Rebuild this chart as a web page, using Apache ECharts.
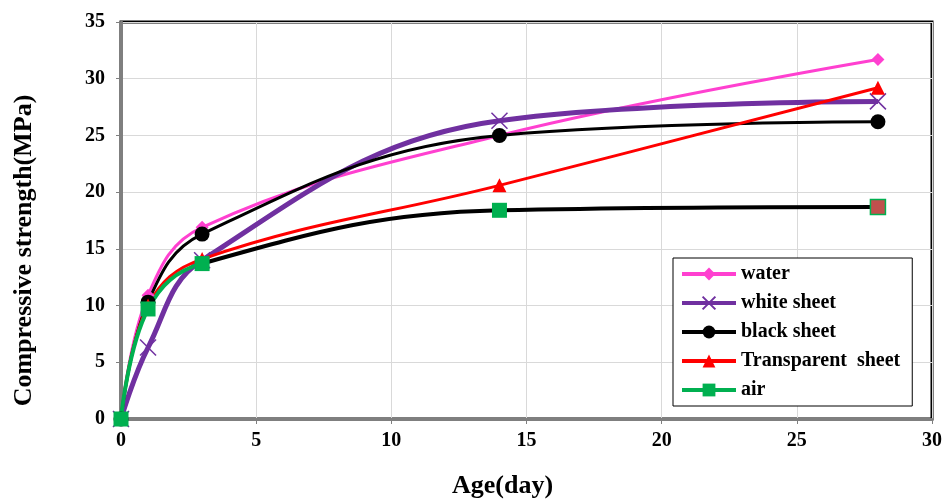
<!DOCTYPE html>
<html><head><meta charset="utf-8">
<script src="https://cdn.jsdelivr.net/npm/echarts@6/dist/echarts.min.js"></script>
<style>html,body{margin:0;padding:0;background:#fff}#c{width:944px;height:501px}</style>
</head><body><div id="c"></div>
<script>
const days = [0, 1, 3, 14, 28];
const water = [0, 10.9, 16.9, 25.0, 31.7];
const whiteSheet = [0, 6.3, 14.0, 26.3, 28.0];
const blackSheet = [0, 10.3, 16.3, 25.0, 26.2];
const transparentSheet = [0, 10.0, 14.1, 20.6, 29.2];
const air = [0, 9.7, 13.7, 18.4, 18.7];
const seriesNames = ['water', 'white sheet', 'black sheet', 'Transparent  sheet', 'air'];
const xTicks = [0, 5, 10, 15, 20, 25, 30];
const yTicks = [0, 5, 10, 15, 20, 25, 30, 35];

const FONT = '"Liberation Serif", "Times New Roman", serif';
const GREEN = '#00B050';
const pts = arr => days.map((d, i) => [d, arr[i]]);
const crossPath = 'path://M0,0L10,10M10,0L0,10';
const greenEnd = days[2] / days[days.length - 1];

const airData = pts(air).map((p, i) => i === days.length - 1
  ? { value: p, itemStyle: { color: '#C0504D', borderColor: GREEN, borderWidth: 1.5 } }
  : p);

const chart = echarts.init(document.getElementById('c'));
chart.setOption({
  animation: false,
  backgroundColor: '#fff',
  grid: { left: 121, right: 12, top: 22, bottom: 82, show: true, borderColor: '#000', borderWidth: 3,
          backgroundColor: 'transparent', containLabel: false, outerBoundsMode: 'none' },
  legend: {
    orient: 'vertical', left: 673, top: 258, padding: [6, 12, 6, 7],
    backgroundColor: '#fff', borderColor: '#000', borderWidth: 1,
    itemWidth: 54, itemHeight: 16, itemGap: 9,
    lineStyle: { width: 4 },
    textStyle: { fontFamily: FONT, fontWeight: 'bold', fontSize: 20, color: '#000' },
    data: [
      { name: seriesNames[0] }, { name: seriesNames[1] }, { name: seriesNames[2] }, { name: seriesNames[3] },
      { name: seriesNames[4], itemStyle: { color: GREEN, borderColor: GREEN }, lineStyle: { color: GREEN, width: 4 } }
    ]
  },
  xAxis: {
    type: 'value', min: 0, max: 30, interval: 5,
    name: 'Age(day)', nameLocation: 'middle', nameGap: 54,
    nameTextStyle: { fontFamily: FONT, fontWeight: 'bold', fontSize: 26, color: '#000', padding: [0, 48, 0, 0] },
    axisLine: { lineStyle: { color: '#7f7f7f', width: 3 } },
    axisTick: { show: true, inside: false, length: 5, lineStyle: { color: '#7f7f7f', width: 1 } },
    axisLabel: { fontFamily: FONT, fontWeight: 'bold', fontSize: 20, color: '#000', margin: 12, formatter: v => xTicks.includes(v) ? String(v) : '' },
    splitLine: { show: true, lineStyle: { color: '#d9d9d9', width: 1 } }
  },
  yAxis: {
    type: 'value', min: 0, max: 35, interval: 5,
    name: 'Compressive strength(MPa)', nameLocation: 'middle', nameGap: 84, nameRotate: 90,
    nameTextStyle: { fontFamily: FONT, fontWeight: 'bold', fontSize: 26, color: '#000', padding: [0, 60, 0, 0] },
    axisLine: { show: true, lineStyle: { color: '#7f7f7f', width: 3 } },
    axisTick: { show: true, inside: false, length: 5, lineStyle: { color: '#7f7f7f', width: 1 } },
    axisLabel: { fontFamily: FONT, fontWeight: 'bold', fontSize: 20, color: '#000', margin: 16, formatter: v => yTicks.includes(v) ? String(v) : '' },
    splitLine: { show: true, lineStyle: { color: '#d9d9d9', width: 1 } }
  },
  series: [
    { name: seriesNames[0], type: 'line', smooth: 0.4, data: pts(water), symbol: 'diamond', symbolSize: 13,
      itemStyle: { color: '#FF40D0' }, lineStyle: { color: '#FF40D0', width: 3 } },
    { name: seriesNames[1], type: 'line', smooth: 0.4, data: pts(whiteSheet), symbol: crossPath, symbolSize: 16,
      itemStyle: { color: '#7030A0', borderColor: '#7030A0', borderWidth: 1.5 }, lineStyle: { color: '#7030A0', width: 5 } },
    { name: seriesNames[2], type: 'line', smooth: 0.4, data: pts(blackSheet), symbol: 'circle', symbolSize: 15,
      itemStyle: { color: '#000' }, lineStyle: { color: '#000', width: 3 } },
    { name: seriesNames[3], type: 'line', smooth: 0.4, data: pts(transparentSheet), symbol: 'triangle', symbolSize: 14,
      itemStyle: { color: '#FF0000' }, lineStyle: { color: '#FF0000', width: 3 } },
    { name: seriesNames[4], type: 'line', smooth: 0.4, data: airData, symbol: 'rect', symbolSize: 15,
      itemStyle: { color: GREEN },
      lineStyle: { width: 4, color: new echarts.graphic.LinearGradient(0, 0, 1, 0, [
        { offset: 0, color: GREEN }, { offset: greenEnd, color: GREEN },
        { offset: greenEnd, color: '#000' }, { offset: 1, color: '#000' }]) } }
  ]
});
</script></body></html>
